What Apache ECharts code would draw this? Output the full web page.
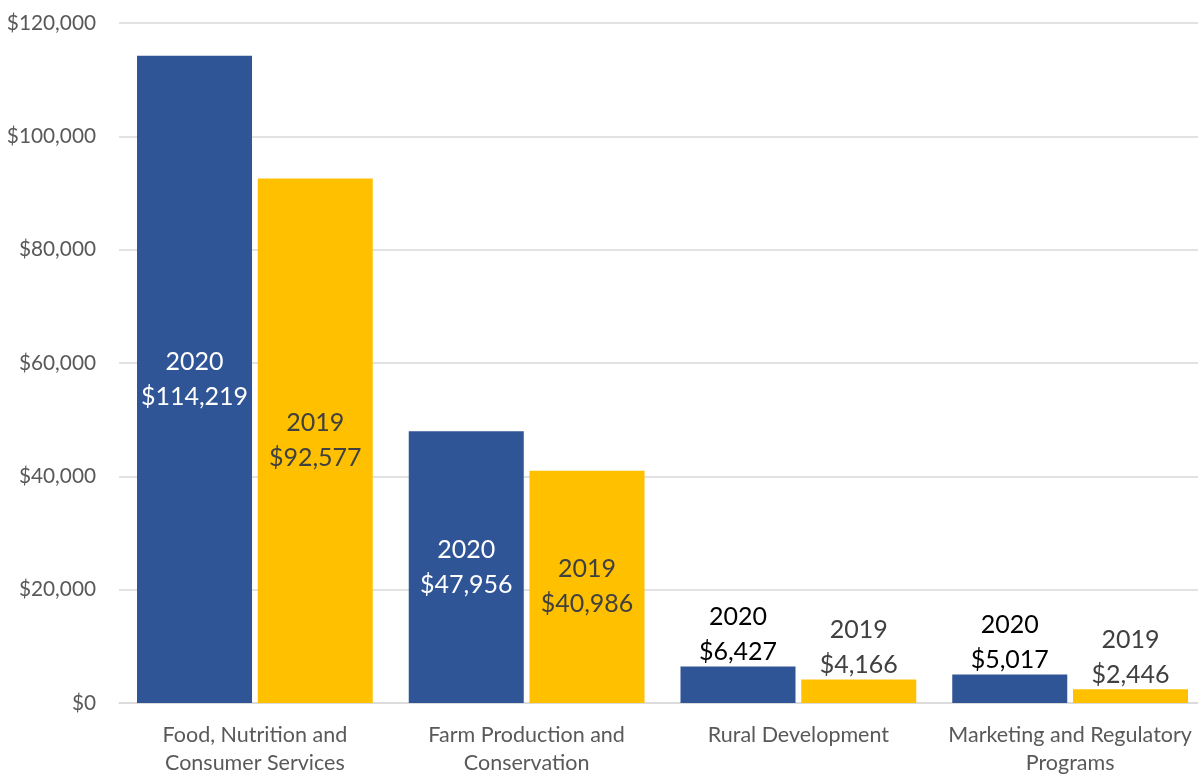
<!DOCTYPE html>
<html>
<head>
<meta charset="utf-8">
<script src="https://cdn.jsdelivr.net/npm/echarts@6/dist/echarts.min.js"></script>
<style>html,body{margin:0;padding:0;background:#fff}#c{width:1198px;height:774px}</style>
</head>
<body>
<div id="c"></div>
<script>
const categories = ['Food, Nutrition and\nConsumer Services', 'Farm Production and\nConservation', 'Rural Development', 'Marketing and Regulatory\nPrograms'];
const values2020 = [114219, 47956, 6427, 5017];
const values2019 = [92577, 40986, 4166, 2446];
const yTicks = [0, 20000, 40000, 60000, 80000, 100000, 120000];

const FONT = 'Lato';
function fmt(v){ return '$' + v.toLocaleString('en-US'); }
function makeData(vals, year, insideColor, topColor){
  return vals.map(v => {
    const inside = v > 20000;
    return {
      value: v,
      label: {
        show: true,
        position: inside ? 'inside' : 'top',
        distance: inside ? 5 : -3,
        color: inside ? insideColor : topColor,
        fontFamily: FONT,
        fontSize: 25,
        lineHeight: 35,
        formatter: () => year + '\n' + fmt(v)
      }
    };
  });
}

const chart = echarts.init(document.getElementById('c'));
chart.setOption({
  animation: false,
  grid: { left: 119, right: -8, top: 23, bottom: 71, containLabel: false, outerBoundsMode: 'none' },
  xAxis: {
    type: 'category',
    data: categories,
    axisLine: { lineStyle: { color: '#D9D9D9', width: 1.5 } },
    axisTick: { show: false },
    axisLabel: { color: '#595959', fontFamily: FONT, fontSize: 21.5, lineHeight: 28, margin: 18, interval: 0 }
  },
  yAxis: {
    type: 'value',
    min: yTicks[0],
    max: yTicks[yTicks.length - 1],
    interval: 20000,
    axisLine: { show: false },
    axisTick: { show: false },
    splitLine: { lineStyle: { color: '#D9D9D9', width: 1.5 } },
    axisLabel: { color: '#595959', fontFamily: FONT, fontSize: 20.8, margin: 23, formatter: v => fmt(v) }
  },
  series: [
    { name: '2020', type: 'bar', barWidth: 115, barGap: '5%', itemStyle: { color: '#2F5597' },
      data: makeData(values2020, '2020', '#FFFFFF', '#000000') },
    { name: '2019', type: 'bar', barWidth: 115, barGap: '5%', itemStyle: { color: '#FFC000' },
      data: makeData(values2019, '2019', '#404040', '#404040') }
  ]
});
</script>
</body>
</html>
